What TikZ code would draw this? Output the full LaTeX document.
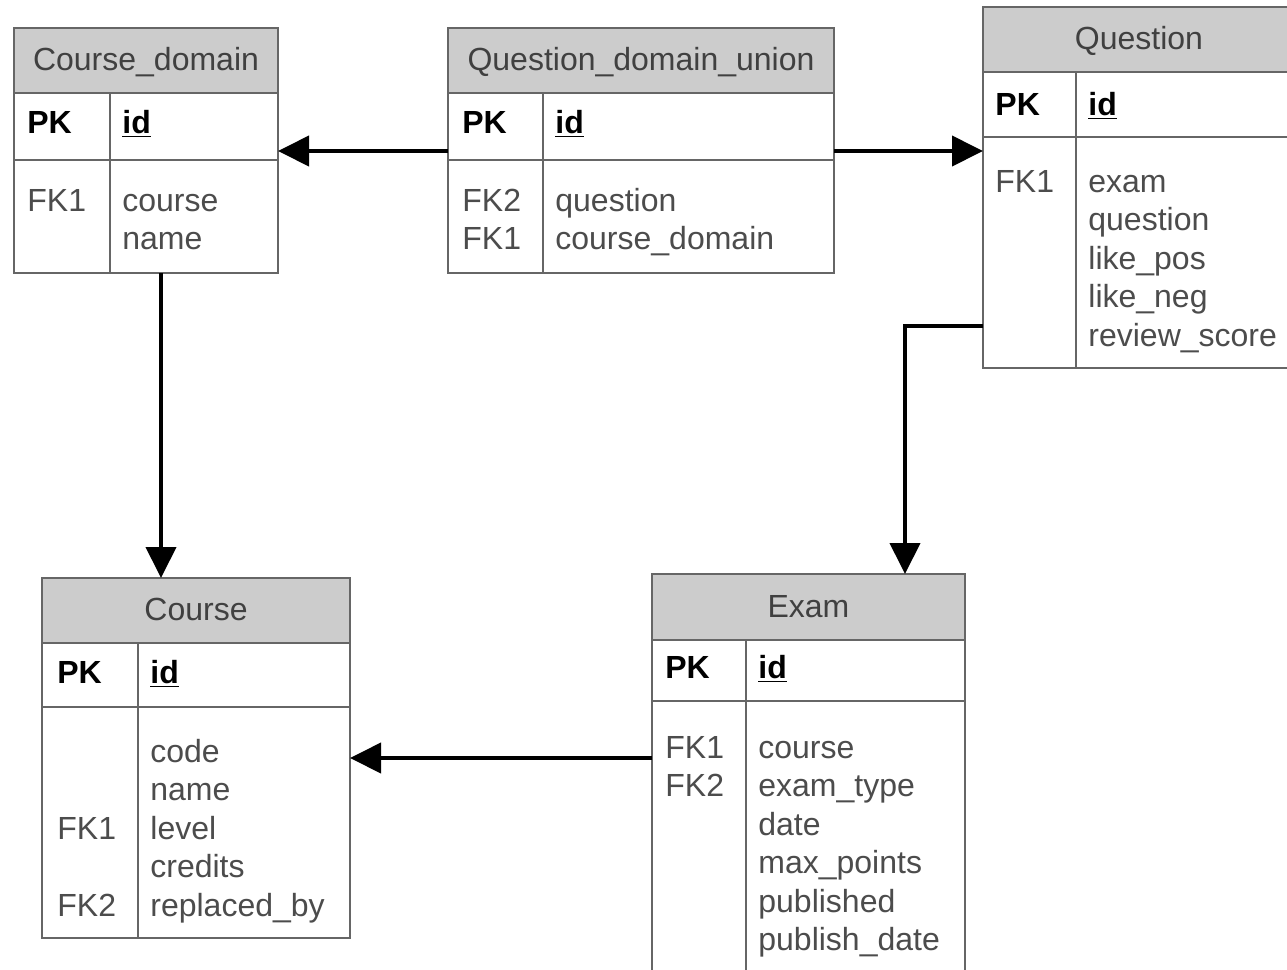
\documentclass[tikz,border=0pt]{standalone}
\usepackage{fontspec}
\setmainfont{Liberation Sans}
\usetikzlibrary{positioning,arrows.meta}
\newcommand{\erfont}{\fontsize{16}{19.25}\selectfont}
\tikzset{
  tblhead/.style={
    % the grey title bar
    rectangle, anchor=north west, inner sep=0pt, outer sep=0pt,
    line width=1.4pt, draw=black!60, fill=black!20,
    text=black!75, text height=10pt, text depth=0pt},
  tblrow/.style={
    % the white rows under it
    rectangle, anchor=north west, inner sep=0pt, outer sep=0pt,
    line width=1.4pt, draw=black!60, fill=white},
  pktext/.style={anchor=base west, inner sep=0pt, text=black, font=\erfont\bfseries},
  % multi-line texts sit on the baseline of their last line
  keytext/.style={anchor=base west, inner sep=0pt, text=black!70, align=left},
  fieldtext/.style={anchor=base west, inner sep=0pt, text=black!70, align=left},
  divider/.style={line width=1.4pt, draw=black!60}
}
\tikzstyle{every node}=[font=\erfont]
\tikzstyle{line} = [draw, line width=2pt, -{Triangle[length=15.5pt,width=15pt]}]

\begin{document}
\begin{tikzpicture}[x=0.5pt,y=-0.5pt]
\useasboundingbox (0,0) rectangle (1287,970);
\clip (0,0) rectangle (1287,970);

% Course_domain
\node [tblhead, minimum width=132pt, minimum height=32.5pt] (cdom) at (14,28) {Course\_domain};
\node [tblrow, minimum width=132pt, minimum height=33.5pt] (cdom-pk) at (cdom.south west) {};
\node [tblrow, minimum width=132pt, minimum height=56.5pt] (cdom-body) at (cdom-pk.south west) {};
\draw [divider] ([xshift=48pt]cdom-pk.north west) -- ([xshift=48pt]cdom-body.south west);
\node [pktext] (cdom-pkkey) at (27,133) {PK};
\node [pktext] (cdom-id) at (122,133) {\underline{id}};
\node [keytext] (cdom-keys) at (27,211) {FK1};
\node [fieldtext] (cdom-fields) at (122,249.5) {course\\name};

% Question_domain_union
\node [tblhead, minimum width=193pt, minimum height=32.5pt] (qdu) at (448,28) {Question\_domain\_union};
\node [tblrow, minimum width=193pt, minimum height=33.5pt] (qdu-pk) at (qdu.south west) {};
\node [tblrow, minimum width=193pt, minimum height=56.5pt] (qdu-body) at (qdu-pk.south west) {};
\draw [divider] ([xshift=47.5pt]qdu-pk.north west) -- ([xshift=47.5pt]qdu-body.south west);
\node [pktext] (qdu-pkkey) at (462,133) {PK};
\node [pktext] (qdu-id) at (555,133) {\underline{id}};
\node [keytext] (qdu-keys) at (462,249.5) {FK2\\FK1};
\node [fieldtext] (qdu-fields) at (555,249.5) {question\\course\_domain};

% Question
\node [tblhead, minimum width=156pt, minimum height=32.5pt] (question) at (983,7) {Question};
\node [tblrow, minimum width=156pt, minimum height=32.5pt] (question-pk) at (question.south west) {};
\node [tblrow, minimum width=156pt, minimum height=115.5pt] (question-body) at (question-pk.south west) {};
\draw [divider] ([xshift=46.5pt]question-pk.north west) -- ([xshift=46.5pt]question-body.south west);
\node [pktext] (question-pkkey) at (995,115) {PK};
\node [pktext] (question-id) at (1088,115) {\underline{id}};
\node [keytext] (question-keys) at (995,192) {FK1};
\node [fieldtext] (question-fields) at (1088,346) {exam\\question\\like\_pos\\like\_neg\\review\_score};

% Course
\node [tblhead, minimum width=154pt, minimum height=32.5pt] (course) at (42,578) {Course};
\node [tblrow, minimum width=154pt, minimum height=32pt] (course-pk) at (course.south west) {};
\node [tblrow, minimum width=154pt, minimum height=115.5pt] (course-body) at (course-pk.south west) {};
\draw [divider] ([xshift=48pt]course-pk.north west) -- ([xshift=48pt]course-body.south west);
\node [pktext] (course-pkkey) at (57,683) {PK};
\node [pktext] (course-id) at (150,683) {\underline{id}};
\node [keytext] (course-fk1) at (57,839) {FK1};
\node [keytext] (course-fk2) at (57,916) {FK2};
\node [fieldtext] (course-fields) at (150,916) {code\\name\\level\\credits\\replaced\_by};

% Exam
\node [tblhead, minimum width=156.5pt, minimum height=33pt] (exam) at (652,574) {Exam};
\node [tblrow, minimum width=156.5pt, minimum height=30.5pt] (exam-pk) at (exam.south west) {};
\node [tblrow, minimum width=156.5pt, minimum height=137pt] (exam-body) at (exam-pk.south west) {};
\draw [divider] ([xshift=47pt]exam-pk.north west) -- ([xshift=47pt]exam-body.south west);
\node [pktext] (exam-pkkey) at (665,678) {PK};
\node [pktext] (exam-id) at (758,678) {\underline{id}};
\node [keytext] (exam-keys) at (665,796.5) {FK1\\FK2};
\node [fieldtext] (exam-fields) at (758,950.5) {course\\exam\_type\\date\\max\_points\\published\\publish\_date};

% Draw edges
\path [line] ([yshift=4.5pt]qdu-pk.south west) coordinate (qdu-l) -- (qdu-l -| cdom-pk.east);
\path [line] ([yshift=4.5pt]qdu-pk.south east) coordinate (qdu-r) -- (qdu-r -| question-body.west);
\path [line] ([xshift=7.5pt]cdom-body.south) coordinate (cdom-b) -- (cdom-b |- course.north);
\path [line] ([yshift=-36.75pt]question-body.west) -| ([xshift=48.25pt]exam.north);
\path [line] ([yshift=40pt]exam-body.west) coordinate (exam-l) -- (exam-l -| course-body.east);

\end{tikzpicture}
\end{document}
